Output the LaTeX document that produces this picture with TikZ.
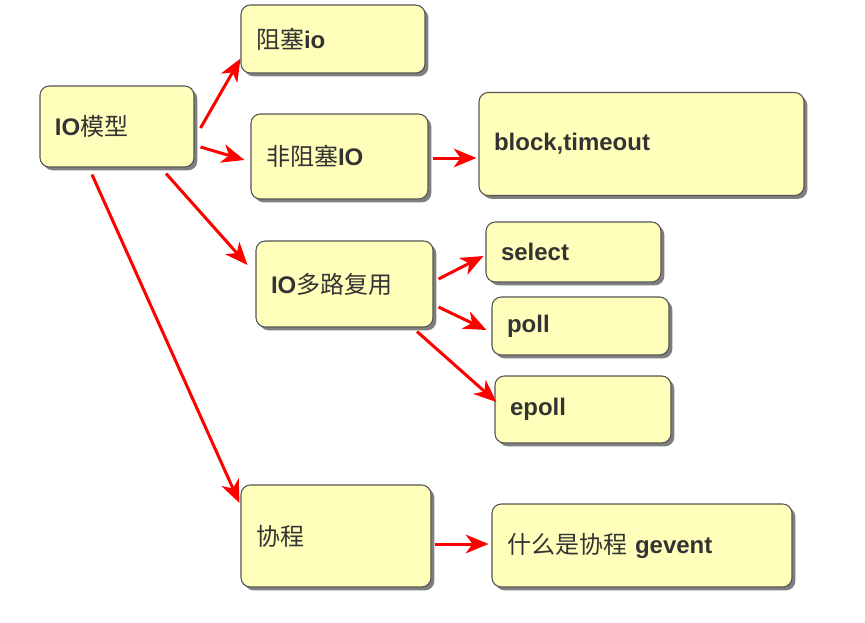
\documentclass[tikz,border=0pt]{standalone}
\usepackage{fontspec}
\setmainfont{Liberation Sans}
\newfontfamily\cjk{Noto Sans CJK SC}
\usetikzlibrary{calc}
\usetikzlibrary{arrows.meta,shadows}
\definecolor{boxfill}{HTML}{FFFFBB}
\definecolor{boxline}{HTML}{555555}
\definecolor{boxtext}{HTML}{333333}
\newcommand{\zh}[1]{{\cjk\mdseries #1}}
\tikzset{
  box/.style={draw=boxline, line width=0.8pt, fill=boxfill, rounded corners=7pt,
    inner xsep=11.25pt, align=left, text=boxtext,
    font=\fontsize{18}{22}\selectfont\bfseries,
    drop shadow={shadow xshift=2.5pt, shadow yshift=-2.5pt, fill=black, opacity=0.5}},
  link/.style={-{Stealth[length=17pt,width=14pt,inset=5pt]}, red, line width=2.25pt},
}
\begin{document}
\begin{tikzpicture}[x=0.75pt, y=-0.75pt]
\useasboundingbox (0,0) rectangle (865,622);
% boxes
\node[box, text width=93pt,     minimum height=60.75pt] (io)   at (117,126.5)   {IO\zh{模型}};
\node[box, text width=115.5pt,  minimum height=51pt]    (zs)   at (333,39)      {\zh{阻塞}io};
\node[box, text width=110.25pt, minimum height=63.75pt] (fzs)  at (339.5,156.5) {\zh{非阻塞}IO};
\node[box, text width=221.25pt, minimum height=77.25pt] (bt)   at (641.5,144)   {block,timeout};
\node[box, text width=110.25pt, minimum height=64.5pt]  (dl)   at (344.5,284)   {IO\zh{多路复用}};
\node[box, text width=108.75pt, minimum height=45pt]    (sel)  at (573.5,252)   {select};
\node[box, text width=110.25pt, minimum height=43.5pt]  (poll) at (580.5,326)   {poll};
\node[box, text width=109.5pt,  minimum height=50.25pt] (ep)   at (583,409.5)   {epoll};
\node[box, text width=120pt,    minimum height=76.5pt]  (xc)   at (336,536)     {\zh{协程}};
\node[box, text width=202.5pt,  minimum height=62.25pt] (ge)   at (642,545.5)   {\zh{什么是协程} gevent};
% arrows
\draw[link] ($(io.east)+(6,1.5)$)   -- ($(zs.south west)+(0,-15)$);
\draw[link] ($(io.east)+(6,20.5)$)  -- ($(fzs.west)+(-6,3.5)$);
\draw[link] ($(io.south)+(49,6)$)   -- ($(dl.west)+(-8,-19)$);
\draw[link] ($(io.south)+(-25,7)$)  -- ($(xc.west)+(-1,-33)$);
\draw[link] ($(fzs.east)+(4,1.5)$)  -- ($(bt.west)+(-2,14)$);
\draw[link] ($(dl.east)+(5,-5)$)    -- ($(sel.west)+(-2,4)$);
\draw[link] ($(dl.east)+(5,23)$)    -- ($(poll.west)+(-5,4)$);
\draw[link] ($(dl.south)+(72.5,4)$) -- ($(ep.west)+(2,-7.5)$);
\draw[link] ($(xc.east)+(3,8)$)     -- ($(ge.west)+(-3,-1.5)$);
\end{tikzpicture}
\end{document}
